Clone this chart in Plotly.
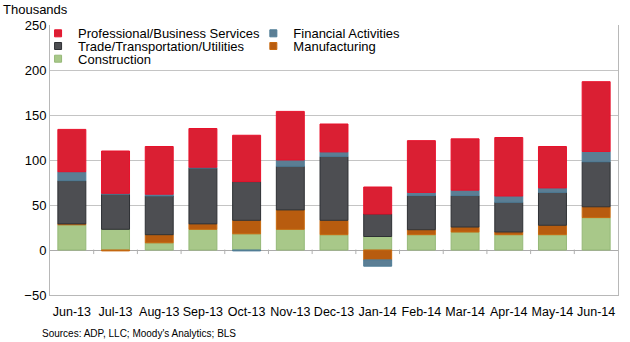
import plotly.graph_objects as go

months = ["Jun-13", "Jul-13", "Aug-13", "Sep-13", "Oct-13", "Nov-13", "Dec-13",
          "Jan-14", "Feb-14", "Mar-14", "Apr-14", "May-14", "Jun-14"]
construction = [28, 23, 8, 23, 18, 23, 17, 15, 17, 20, 17, 17, 36]
manufacturing = [1, -1, 9, 6, 15, 21.5, 16, -11, 5.5, 5.5, 3, 10.5, 12]
trade = [48, 39, 43, 62, 43, 48.5, 71, 25, 38, 35, 33, 36.5, 50]
financial = [10, 1, 2, 1, -1, 7, 5, -7, 3.5, 6, 7, 5, 11.5]
professional = [47, 47, 53, 43, 51.5, 54, 31, 30, 57.5, 57, 65, 46, 77.5]

series = [
    ("Construction", construction, "#A8C889", "#95B877", "legend5"),
    ("Manufacturing", manufacturing, "#B85C0F", "#C8690E", "legend4"),
    ("Trade/Transportation/Utilities", trade, "#4D4E52", "#2E3034", "legend3"),
    ("Financial Activities", financial, "#5B7E94", "#4E7C96", "legend2"),
    ("Professional/Business Services", professional, "#DA1F33", "#E8112B", "legend"),
]

FONT = "Liberation Sans, Arial, sans-serif"

fig = go.Figure()
for name, vals, col, line, lg in series:
    fig.add_trace(go.Bar(x=months, y=vals, name=name, showlegend=False,
                         marker=dict(color=col, line=dict(color=line, width=1))))
# legend-only entries with small square keys
for name, vals, col, line, lg in series:
    fig.add_trace(go.Scatter(x=[None], y=[None], name=name, legend=lg,
                             mode="markers", hoverinfo="skip", showlegend=True,
                             marker=dict(symbol="square", size=7, color=col,
                                         line=dict(color=line, width=1))))

# small category-boundary tick marks on the zero line
shapes = []
for i in range(len(months) - 1):
    shapes.append(dict(type="line", xref="x", yref="y", x0=i + 0.5, x1=i + 0.5,
                       y0=0.5, y1=-4.5, line=dict(color="#B0B0B0", width=1)))


def legend_item(xc, yc):
    return dict(orientation="h", x=xc, y=yc,
                xanchor="left", yanchor="middle",
                font=dict(size=13, family=FONT, color="#000000"),
                bgcolor="rgba(0,0,0,0)", itemwidth=30)


fig.update_layout(
    width=630, height=342,
    margin=dict(l=50, r=12, t=25, b=47),
    barmode="relative",
    bargap=0.36,
    plot_bgcolor="white", paper_bgcolor="white",
    font=dict(family=FONT, size=13, color="#000000"),
    showlegend=True,
    legend=legend_item(-0.021, 0.969),
    legend2=legend_item(0.358, 0.969),
    legend3=legend_item(-0.021, 0.922),
    legend4=legend_item(0.358, 0.922),
    legend5=legend_item(-0.021, 0.875),
    xaxis=dict(showgrid=False, showline=True, linecolor="#B8B8B8", mirror=False,
               ticks="", tickfont=dict(size=12.5), zeroline=False,
               ticklabelstandoff=5, type="category",
               categoryorder="array", categoryarray=months,
               range=[-0.5, len(months) - 0.5]),
    yaxis=dict(range=[-50, 250], dtick=50, showgrid=True, gridcolor="#C4C4C4",
               gridwidth=1, zeroline=True, zerolinecolor="#ABABAB", zerolinewidth=1,
               showline=True, linecolor="#B8B8B8", mirror=True, ticks="",
               tickfont=dict(size=13), ticklabelstandoff=0),
    shapes=shapes,
    annotations=[
        dict(text="Thousands", xref="paper", yref="paper", x=-0.086, y=1.0,
             xanchor="left", yanchor="bottom", showarrow=False, yshift=6,
             font=dict(size=13, family=FONT)),
        dict(text="Sources: ADP, LLC; Moody's Analytics; BLS", xref="paper", yref="paper",
             x=-0.0176, y=0, xanchor="left", yanchor="top", showarrow=False, yshift=-31,
             font=dict(size=10, family=FONT)),
    ],
)

fig.write_html("out.html")
